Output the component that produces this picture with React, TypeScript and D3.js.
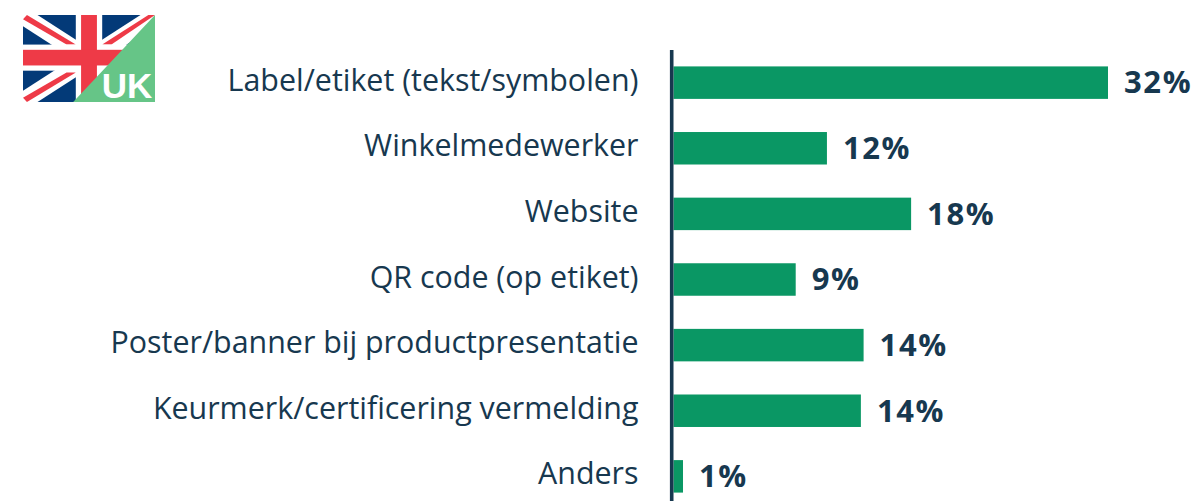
import React from 'react';
import * as d3 from 'd3';

const categories = [
  'Label/etiket (tekst/symbolen)',
  'Winkelmedewerker',
  'Website',
  'QR code (op etiket)',
  'Poster/banner bij productpresentatie',
  'Keurmerk/certificering vermelding',
  'Anders',
];
const values = [32, 11.3, 17.5, 9, 14, 13.8, 0.7];
const valueLabels = ['32%', '12%', '18%', '9%', '14%', '14%', '1%'];

const width = 1197;
const height = 501;
const navy = '#17384f';
const green = '#0a9764';
const font = '"Open Sans", sans-serif';

const x = d3.scaleLinear().domain([0, 32]).range([673.5, 1108]);
const y = d3.scaleBand().domain(categories).range([50, 509]).paddingInner(0.505).paddingOuter(0.25);

// flag: unit coordinates mapped onto its box
const fx = d3.scaleLinear().domain([0, 1]).range([23, 155]);
const fy = d3.scaleLinear().domain([0, 1]).range([15, 102]);
const poly = (pts: number[][]) => {
  const p = d3.path();
  pts.forEach(([a, b], i) => (i ? p.lineTo(fx(a), fy(b)) : p.moveTo(fx(a), fy(b))));
  p.closePath();
  return p.toString();
};

function Flag() {
  return (
    <g>
      <rect x={fx(0)} y={fy(0)} width={fx(1) - fx(0)} height={fy(1) - fy(0)} fill="#033a78" />
      <path d={poly([[0, 0], [0.11, 0], [1, 0.87], [1, 1], [0.89, 1], [0, 0.13]])} fill="#fff" />
      <path d={poly([[1, 0], [0.89, 0], [0, 0.87], [0, 1], [0.11, 1], [1, 0.13]])} fill="#fff" />
      <path d={poly([[0, 0.05], [0.03, 0], [0.4, 0.34], [0.33, 0.34]])} fill="#ee3a47" />
      <path d={poly([[1, 0], [0.95, 0], [0.6, 0.34], [0.67, 0.34]])} fill="#ee3a47" />
      <path d={poly([[0, 0.95], [0.03, 1], [0.4, 0.66], [0.33, 0.66]])} fill="#ee3a47" />
      <rect x={fx(0.4)} y={fy(0)} width={fx(0.6) - fx(0.4)} height={fy(1) - fy(0)} fill="#fff" />
      <rect x={fx(0)} y={fy(0.34)} width={fx(1) - fx(0)} height={fy(0.64) - fy(0.34)} fill="#fff" />
      <rect x={fx(0.44)} y={fy(0)} width={fx(0.56) - fx(0.44)} height={fy(1) - fy(0)} fill="#ee3a47" />
      <rect x={fx(0)} y={fy(0.4)} width={fx(1) - fx(0)} height={fy(0.58) - fy(0.4)} fill="#ee3a47" />
      <path d={poly([[1, 0], [1, 1], [0.38, 1]])} fill="#66c587" />
      <text x={fx(0.98)} y={fy(0.95)} textAnchor="end" fontFamily="Liberation Sans, sans-serif" fontSize={35} fontWeight={700} fill="#fff">
        UK
      </text>
    </g>
  );
}

export default function App() {
  return (
    <svg width={width} height={height} style={{ position: 'absolute', left: 0, top: 0 }}>
      <rect width={width} height={height} fill="#fff" />
      <Flag />
      {categories.map((c, i) => {
        const cy = y(c)! + y.bandwidth() / 2;
        return (
          <g key={c}>
            <rect x={x(0)} y={y(c)} width={x(values[i]) - x(0)} height={y.bandwidth()} fill={green} />
            <text x={638.5} y={cy - 2} dy="0.33em" textAnchor="end" fontFamily={font} fontSize={30.4} fill={navy}>
              {c}
            </text>
            <text x={x(values[i]) + 16} y={cy} dy="0.35em" fontFamily={font} fontSize={31} fontWeight={700} letterSpacing={1.6} fill={navy}>
              {valueLabels[i]}
            </text>
          </g>
        );
      })}
      <line x1={671.7} x2={671.7} y1={50} y2={height} stroke={navy} strokeWidth={3.6} />
    </svg>
  );
}
